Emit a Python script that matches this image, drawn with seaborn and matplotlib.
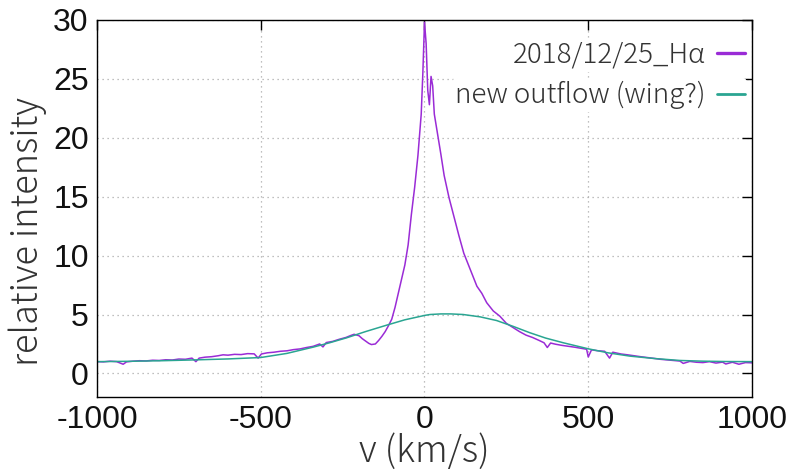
import numpy as np
import pandas as pd
import matplotlib
matplotlib.use("Agg")
import matplotlib.pyplot as plt
import seaborn as sns
from matplotlib.lines import Line2D

# ---- data ----
ha_v = [-1000, -980, -960, -940, -920, -910, -890, -870, -850, -830, -810, -790,
        -770, -750, -730, -710, -698, -688, -670, -650, -630, -615, -600, -580,
        -560, -540, -520, -508, -498, -480, -460, -440, -420, -400, -380, -360,
        -340, -320, -310, -300, -280, -260, -240, -225, -215, -200, -190, -180,
        -170, -162, -150, -140, -130, -120, -110, -100, -90, -75, -60, -50,
        -40, -30, -20, -10, -5, 0, 5, 10, 15, 20, 25, 30,
        40, 50, 60, 75, 90, 105, 120, 140, 160, 175, 190, 210,
        230, 250, 270, 290, 310, 330, 350, 365, 375, 385, 400, 420,
        440, 460, 480, 495, 500, 510, 530, 550, 565, 575, 600, 620,
        640, 660, 680, 700, 720, 740, 760, 780, 790, 810, 830, 850,
        870, 890, 910, 920, 940, 960, 980, 1000]
ha_i = [1.00, 0.98, 1.04, 1.00, 0.78, 0.98, 1.04, 1.08, 1.06, 1.12, 1.10, 1.16,
        1.14, 1.22, 1.20, 1.30, 1.00, 1.30, 1.38, 1.42, 1.50, 1.58, 1.55, 1.62,
        1.60, 1.68, 1.66, 1.30, 1.65, 1.75, 1.80, 1.88, 1.92, 2.02, 2.08, 2.20,
        2.30, 2.50, 2.25, 2.62, 2.72, 2.90, 3.05, 3.22, 3.32, 3.20, 2.95, 2.75,
        2.55, 2.45, 2.50, 2.80, 3.15, 3.55, 4.05, 4.60, 5.60, 7.40, 9.20, 10.9,
        13.5, 15.8, 18.5, 22.0, 25.5, 29.8, 28.0, 24.0, 22.8, 25.2, 24.4, 22.0,
        20.3, 18.6, 16.8, 14.9, 13.3, 11.7, 10.2, 8.8, 7.4, 6.8, 6.0, 5.30,
        4.86, 4.25, 3.90, 3.55, 3.25, 3.05, 2.80, 2.60, 2.20, 2.58, 2.48, 2.38,
        2.30, 2.22, 2.12, 2.05, 1.40, 2.00, 1.92, 1.88, 1.30, 1.80, 1.65, 1.58,
        1.50, 1.42, 1.35, 1.28, 1.20, 1.15, 1.10, 1.05, 0.85, 1.02, 0.95, 0.92,
        1.00, 0.88, 0.96, 0.80, 0.95, 0.78, 0.92, 0.90]

wing_v = [-1000, -900, -800, -700, -600, -500, -420, -340, -290, -238, -180,
          -115, -60, 0, 17, 50, 80, 118, 170, 220, 270, 322, 370, 424, 500,
          560, 627, 700, 780, 850, 920, 1000]
wing_i = [1.00, 1.03, 1.08, 1.15, 1.23, 1.35, 1.70, 2.23, 2.60, 3.02, 3.55,
          4.10, 4.55, 4.92, 5.00, 5.05, 5.05, 5.00, 4.80, 4.49, 4.00, 3.45,
          3.00, 2.60, 2.09, 1.75, 1.47, 1.27, 1.10, 1.04, 1.01, 1.00]

labels = ["2018/12/25_H\u03b1", "new outflow (wing?)"]
colors = ["#9a2bd6", "#2aa592"]

x_ticks = [-1000, -500, 0, 500, 1000]
y_ticks = [0, 5, 10, 15, 20, 25, 30]

df_ha = pd.DataFrame({"v": ha_v, "I": ha_i})
df_w = pd.DataFrame({"v": wing_v, "I": wing_i})

sns.set_style("white")
plt.rcParams["font.family"] = ["Noto Sans CJK JP", "DejaVu Sans"]

fig = plt.figure(figsize=(7.93, 4.75), dpi=100)
ax = fig.add_axes([0.1223, 0.1642, 0.826, 0.794])

sns.lineplot(data=df_ha, x="v", y="I", ax=ax, color=colors[0], lw=1.1,
             estimator=None, sort=False, legend=False)
sns.lineplot(data=df_w, x="v", y="I", ax=ax, color=colors[1], lw=1.1,
             estimator=None, sort=False, legend=False)

ax.set_xlim(-1000, 1000)
ax.set_ylim(-2, 30)
ax.set_xticks(x_ticks)
ax.set_yticks(y_ticks)
ax.set_xticklabels([str(t) for t in x_ticks])
ax.set_yticklabels([str(t) for t in y_ticks])
ax.grid(True, linestyle=(0, (1, 3)), color="#aaaaaa", linewidth=0.9)
ax.set_axisbelow(True)

ax.tick_params(direction="in", top=True, right=True, length=7, width=1,
               color="black", pad=6)
for lab in ax.get_xticklabels() + ax.get_yticklabels():
    lab.set_fontfamily("Liberation Sans")
    lab.set_fontsize(23)
    lab.set_color("#111111")
for s in ax.spines.values():
    s.set_color("black")
    s.set_linewidth(1.0)

ax.set_xlabel("v (km/s)", fontsize=26, fontweight="light", color="#333333",
              labelpad=-2)
ax.set_ylabel("relative intensity", fontsize=26, fontweight="light",
              color="#333333")
ax.yaxis.set_label_coords(-0.076, 0.44)

ys = [0.907, 0.80]
lws = [2.4, 2.0]
for lab, col, y, lw in zip(labels, colors, ys, lws):
    h = Line2D([0], [0], color=col, lw=lw)
    leg = ax.legend([h], [lab], loc="center right", bbox_to_anchor=(0.993, y),
                    frameon=True, framealpha=1, facecolor="white",
                    edgecolor="none", fontsize=20, markerfirst=False,
                    handlelength=1.0, handletextpad=0.4, borderpad=0.1,
                    borderaxespad=0)
    for t in leg.get_texts():
        t.set_color("#333333")
        t.set_fontweight("light")
    ax.add_artist(leg)

fig.savefig("out.png", dpi=100)
